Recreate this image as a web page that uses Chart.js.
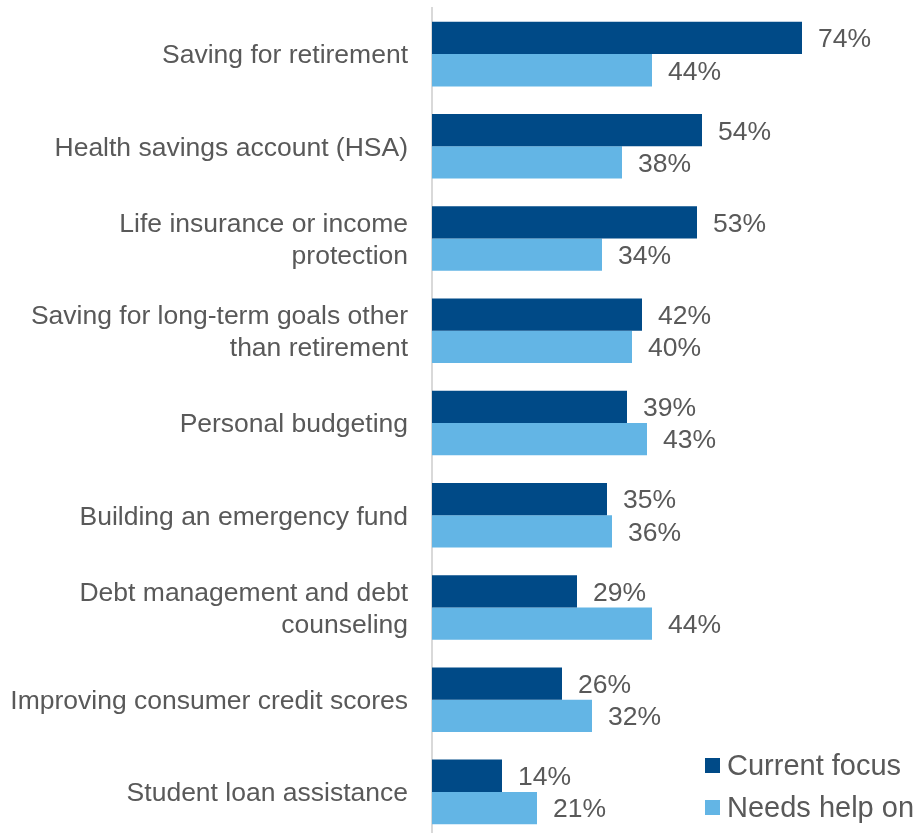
<!DOCTYPE html>
<html>
<head>
<meta charset="utf-8">
<script src="https://cdn.jsdelivr.net/npm/chart.js@4.4.1/dist/chart.umd.min.js"></script>
<style>
  html, body { margin: 0; padding: 0; background: #fff; overflow: hidden; }
  #wrap { position: relative; width: 917px; height: 838px; }
</style>
</head>
<body>
<div id="wrap"><canvas id="benefitsChart"></canvas></div>
<script>
// Categories and series values
const categories = [
  "Saving for retirement",
  "Health savings account (HSA)",
  ["Life insurance or income", "protection"],
  ["Saving for long-term goals other", "than retirement"],
  "Personal budgeting",
  "Building an emergency fund",
  ["Debt management and debt", "counseling"],
  "Improving consumer credit scores",
  "Student loan assistance"
];
const currentFocus = [74, 54, 53, 42, 39, 35, 29, 26, 14];
const needsHelpOn = [44, 38, 34, 40, 43, 36, 44, 32, 21];
const seriesNames = ["Current focus", "Needs help on"];

const textColor = "#595959";
const darkBlue = "#004A87";
const lightBlue = "#63B5E5";

// Draw the percentage labels to the right of each bar
const valueLabels = {
  id: "valueLabels",
  afterDatasetsDraw(chart) {
    const ctx = chart.ctx;
    ctx.save();
    ctx.font = "26.5px 'Liberation Sans', Arial, sans-serif";
    ctx.fillStyle = textColor;
    ctx.textAlign = "left";
    ctx.textBaseline = "middle";
    chart.data.datasets.forEach((ds, di) => {
      const meta = chart.getDatasetMeta(di);
      meta.data.forEach((bar, i) => {
        ctx.fillText(ds.data[i] + "%", bar.x + 16, bar.y + 2);
      });
    });
    ctx.restore();
  }
};

// Legend sits inside the plot, bottom right
const cornerLegend = {
  id: "cornerLegend",
  afterDraw(chart) {
    const ctx = chart.ctx;
    const area = chart.chartArea;
    ctx.save();
    ctx.font = "29px 'Liberation Sans', Arial, sans-serif";
    ctx.textBaseline = "middle";
    ctx.textAlign = "left";
    chart.data.datasets.forEach((ds, i) => {
      const x = area.right - 212;
      const y = 765.5 + i * 42;
      ctx.fillStyle = ds.backgroundColor;
      ctx.fillRect(x, y - 7.5, 15, 15);
      ctx.fillStyle = textColor;
      ctx.fillText(ds.label, x + 22, y + 1);
    });
    ctx.restore();
  }
};

function renderChart() {
  const ctx = document.getElementById("benefitsChart").getContext("2d");
  new Chart(ctx, {
    type: "bar",
    data: {
      labels: categories,
      datasets: [
        {
          label: seriesNames[0],
          data: currentFocus,
          backgroundColor: darkBlue,
          categoryPercentage: 0.7,
          barPercentage: 1.0
        },
        {
          label: seriesNames[1],
          data: needsHelpOn,
          backgroundColor: lightBlue,
          categoryPercentage: 0.7,
          barPercentage: 1.0
        }
      ]
    },
    options: {
      indexAxis: "y",
      responsive: true,
      maintainAspectRatio: false,
      animation: false,
      layout: { padding: { top: 8, right: 0, bottom: 0, left: 0 } },
      plugins: {
        legend: { display: false },
        tooltip: { enabled: false }
      },
      scales: {
        x: {
          display: false,
          min: 0,
          max: 97
        },
        y: {
          afterFit(scale) {
            scale.width = 432;
            scale.paddingTop = 0;
            scale.paddingBottom = 0;
          },
          grid: { display: false, drawTicks: false },
          border: { display: true, color: "#D9D9D9", width: 2 },
          ticks: {
            color: textColor,
            padding: 24,
            labelOffset: 2,
            font: { family: "'Liberation Sans', Arial, sans-serif", size: 26.5, lineHeight: 1.21 }
          }
        }
      }
    },
    plugins: [valueLabels, cornerLegend]
  });
}

renderChart();
</script>
</body>
</html>
